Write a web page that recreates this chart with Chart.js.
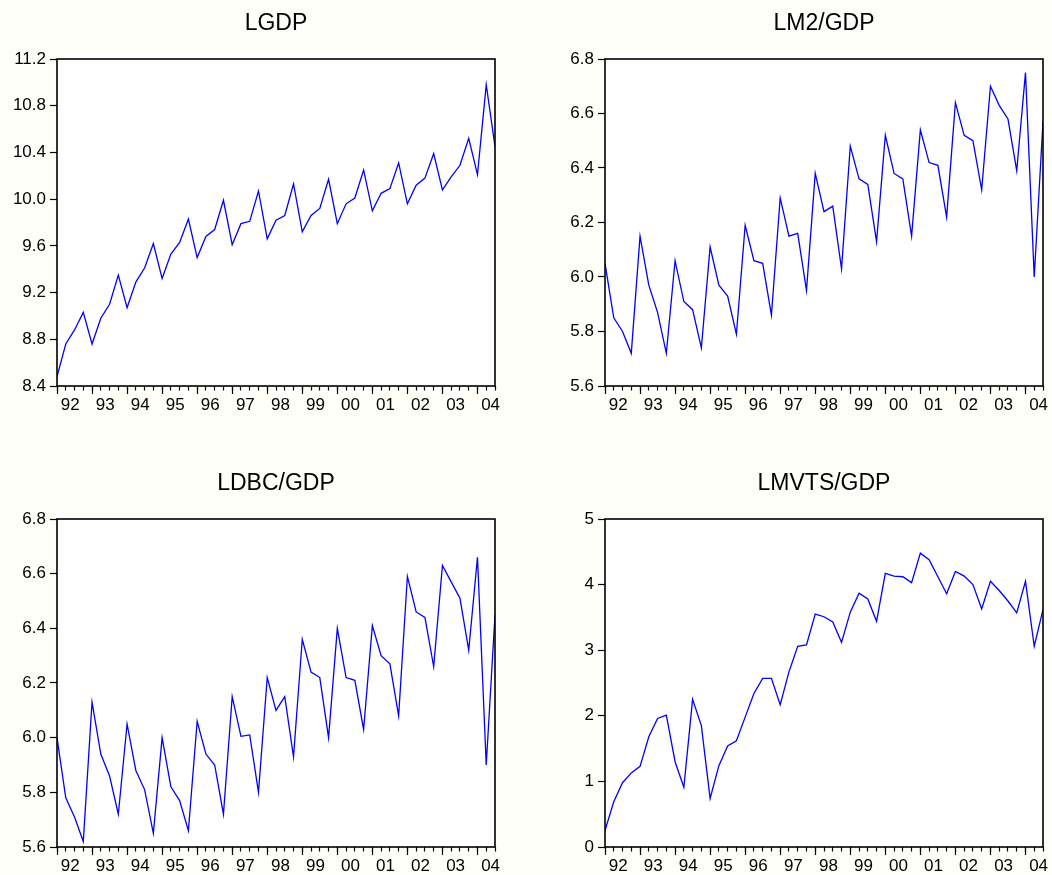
<!DOCTYPE html>
<html>
<head>
<meta charset="utf-8">
<script src="https://cdn.jsdelivr.net/npm/chart.js@4.4.0/dist/chart.umd.min.js"></script>
<style>
  html, body { margin: 0; padding: 0; background: #fffffa; }
  #wrap { position: relative; width: 1052px; height: 875px; overflow: hidden; background: #fffffa; }
  canvas { position: absolute; }
</style>
</head>
<body>
<div id="wrap">
  <canvas id="c1" width="526" height="437" style="left:0;top:0"></canvas>
  <canvas id="c2" width="526" height="437" style="left:526px;top:0"></canvas>
  <canvas id="c3" width="526" height="415" style="left:0;top:460px"></canvas>
  <canvas id="c4" width="526" height="415" style="left:526px;top:460px"></canvas>
</div>
<script>
// ---- data: quarterly 1992Q1 .. 2004Q3 ----
const yearLabels = ['92','93','94','95','96','97','98','99','00','01','02','03','04'];
const quarterCount = 51;

const lgdp = [8.48, 8.76, 8.88, 9.03, 8.76, 8.98, 9.10, 9.35, 9.07, 9.29, 9.41, 9.62,
              9.32, 9.53, 9.63, 9.83, 9.50, 9.68, 9.74, 9.99, 9.61, 9.79, 9.81, 10.07,
              9.66, 9.82, 9.86, 10.13, 9.72, 9.86, 9.92, 10.17, 9.79, 9.96, 10.01, 10.25,
              9.90, 10.05, 10.09, 10.31, 9.96, 10.12, 10.18, 10.39, 10.08, 10.19, 10.29, 10.52,
              10.21, 10.98, 10.45];

const lm2gdp = [6.05, 5.85, 5.80, 5.72, 6.15, 5.97, 5.87, 5.72, 6.06, 5.91, 5.88, 5.74,
                6.11, 5.97, 5.93, 5.79, 6.19, 6.06, 6.05, 5.86, 6.29, 6.15, 6.16, 5.95,
                6.38, 6.24, 6.26, 6.03, 6.48, 6.36, 6.34, 6.13, 6.52, 6.38, 6.36, 6.15,
                6.54, 6.42, 6.41, 6.22, 6.64, 6.52, 6.50, 6.32, 6.70, 6.63, 6.58, 6.39,
                6.75, 6.00, 6.57];

const ldbcgdp = [6.00, 5.78, 5.71, 5.62, 6.13, 5.94, 5.86, 5.72, 6.05, 5.88, 5.81, 5.65,
                 6.00, 5.82, 5.77, 5.66, 6.06, 5.94, 5.90, 5.72, 6.15, 6.005, 6.01, 5.80,
                 6.22, 6.10, 6.15, 5.93, 6.36, 6.24, 6.22, 6.00, 6.40, 6.22, 6.21, 6.03,
                 6.41, 6.30, 6.27, 6.08, 6.59, 6.46, 6.44, 6.26, 6.63, 6.57, 6.51, 6.32,
                 6.66, 5.90, 6.45];

const lmvtsgdp = [0.25, 0.69, 0.98, 1.13, 1.23, 1.68, 1.96, 2.01, 1.30, 0.91, 2.25, 1.85,
                  0.74, 1.24, 1.54, 1.62, 1.98, 2.34, 2.57, 2.57, 2.17, 2.67, 3.06, 3.08,
                  3.55, 3.51, 3.43, 3.12, 3.58, 3.87, 3.78, 3.44, 4.17, 4.13, 4.12, 4.03,
                  4.48, 4.38, 4.12, 3.86, 4.20, 4.13, 4.00, 3.63, 4.05, 3.91, 3.75, 3.57,
                  4.05, 3.06, 3.62];

const ticksLGDP = [8.4, 8.8, 9.2, 9.6, 10.0, 10.4, 10.8, 11.2];
const ticksLM2 = [5.6, 5.8, 6.0, 6.2, 6.4, 6.6, 6.8];
const ticksLDBC = [5.6, 5.8, 6.0, 6.2, 6.4, 6.6, 6.8];
const ticksLMVTS = [0, 1, 2, 3, 4, 5];

// ---- drawing ----
const FONT = '"Liberation Sans", Arial, Helvetica, sans-serif';

const framePlugin = {
  id: 'frame',
  beforeDraw(chart) {
    const a = chart.chartArea, c = chart.ctx;
    c.save(); c.fillStyle = '#ffffff';
    c.fillRect(a.left, a.top, a.right - a.left, a.bottom - a.top);
    c.restore();
  },
  afterDraw(chart) {
    const a = chart.chartArea, c = chart.ctx;
    c.save(); c.strokeStyle = '#000'; c.lineWidth = 1.6;
    c.strokeRect(a.left, a.top, a.right - a.left, a.bottom - a.top);
    c.restore();
  }
};

function makeChart(id, title, values, yTicks, decimals, cfg) {
  const pts = values.map((v, i) => ({ x: i, y: v }));
  const yearStarts = yearLabels.map((_, k) => k * 4);
  return new Chart(document.getElementById(id), {
    type: 'line',
    data: { datasets: [{ data: pts, borderColor: '#0000ff', borderWidth: 1.3,
      pointRadius: 0, tension: 0, fill: false }] },
    options: {
      responsive: false, animation: false,
      layout: { padding: { left: 0, top: 0, right: cfg.padRight, bottom: 0 } },
      plugins: {
        legend: { display: false }, tooltip: { enabled: false },
        title: { display: true, text: title, color: '#000', fullSize: false,
          font: { family: FONT, size: 23, weight: 'normal' },
          padding: { top: 10, bottom: 21.4 } }
      },
      scales: {
        x: {
          type: 'linear', position: 'bottom', min: 0, max: quarterCount - 1,
          border: { display: false },
          grid: { drawOnChartArea: false, tickLength: 4.5, tickColor: '#000', tickWidth: 1.2 },
          ticks: { display: false, autoSkip: false },
          afterBuildTicks: ax => { ax.ticks = Array.from({ length: quarterCount }, (_, i) => ({ value: i })); },
          afterFit: ax => { ax.height = 0; }
        },
        x2: {
          type: 'linear', position: 'bottom', min: 0, max: quarterCount - 1,
          border: { display: false },
          grid: { drawOnChartArea: false, tickLength: 8, tickWidth: 1.2,
            tickColor: ctx => (ctx.tick && Number.isInteger(ctx.tick.value)) ? '#000' : 'rgba(0,0,0,0)' },
          ticks: {
            autoSkip: false, maxRotation: 0, minRotation: 0, padding: 1, color: '#000',
            font: { family: FONT, size: 17 },
            callback: v => Number.isInteger(v) ? '' : yearLabels[Math.floor(v / 4)]
          },
          afterBuildTicks: ax => {
            const t = [];
            yearStarts.forEach((s) => { t.push({ value: s }); if (s + 1.5 <= quarterCount - 1) t.push({ value: s + 1.5 }); });
            ax.ticks = t;
          },
          afterFit: ax => { ax.height = cfg.xHeight; }
        },
        y: {
          type: 'linear', position: 'left', min: yTicks[0], max: yTicks[yTicks.length - 1],
          border: { display: false },
          grid: { drawOnChartArea: false, tickLength: 7, tickColor: '#000', tickWidth: 1.2 },
          ticks: { padding: 4, color: '#000', font: { family: FONT, size: 17 },
            callback: v => Number(v).toFixed(decimals) },
          afterBuildTicks: ax => { ax.ticks = yTicks.map(v => ({ value: v })); },
          afterFit: ax => { ax.width = cfg.yWidth; }
        }
      }
    },
    plugins: [framePlugin]
  });
}

makeChart('c1', 'LGDP', lgdp, ticksLGDP, 1, { yWidth: 57, padRight: 31, xHeight: 51 });
makeChart('c2', 'LM2/GDP', lm2gdp, ticksLM2, 1, { yWidth: 79, padRight: 9, xHeight: 51 });
makeChart('c3', 'LDBC/GDP', ldbcgdp, ticksLDBC, 1, { yWidth: 57, padRight: 31, xHeight: 28 });
makeChart('c4', 'LMVTS/GDP', lmvtsgdp, ticksLMVTS, 0, { yWidth: 79, padRight: 9, xHeight: 28 });
</script>
</body>
</html>
